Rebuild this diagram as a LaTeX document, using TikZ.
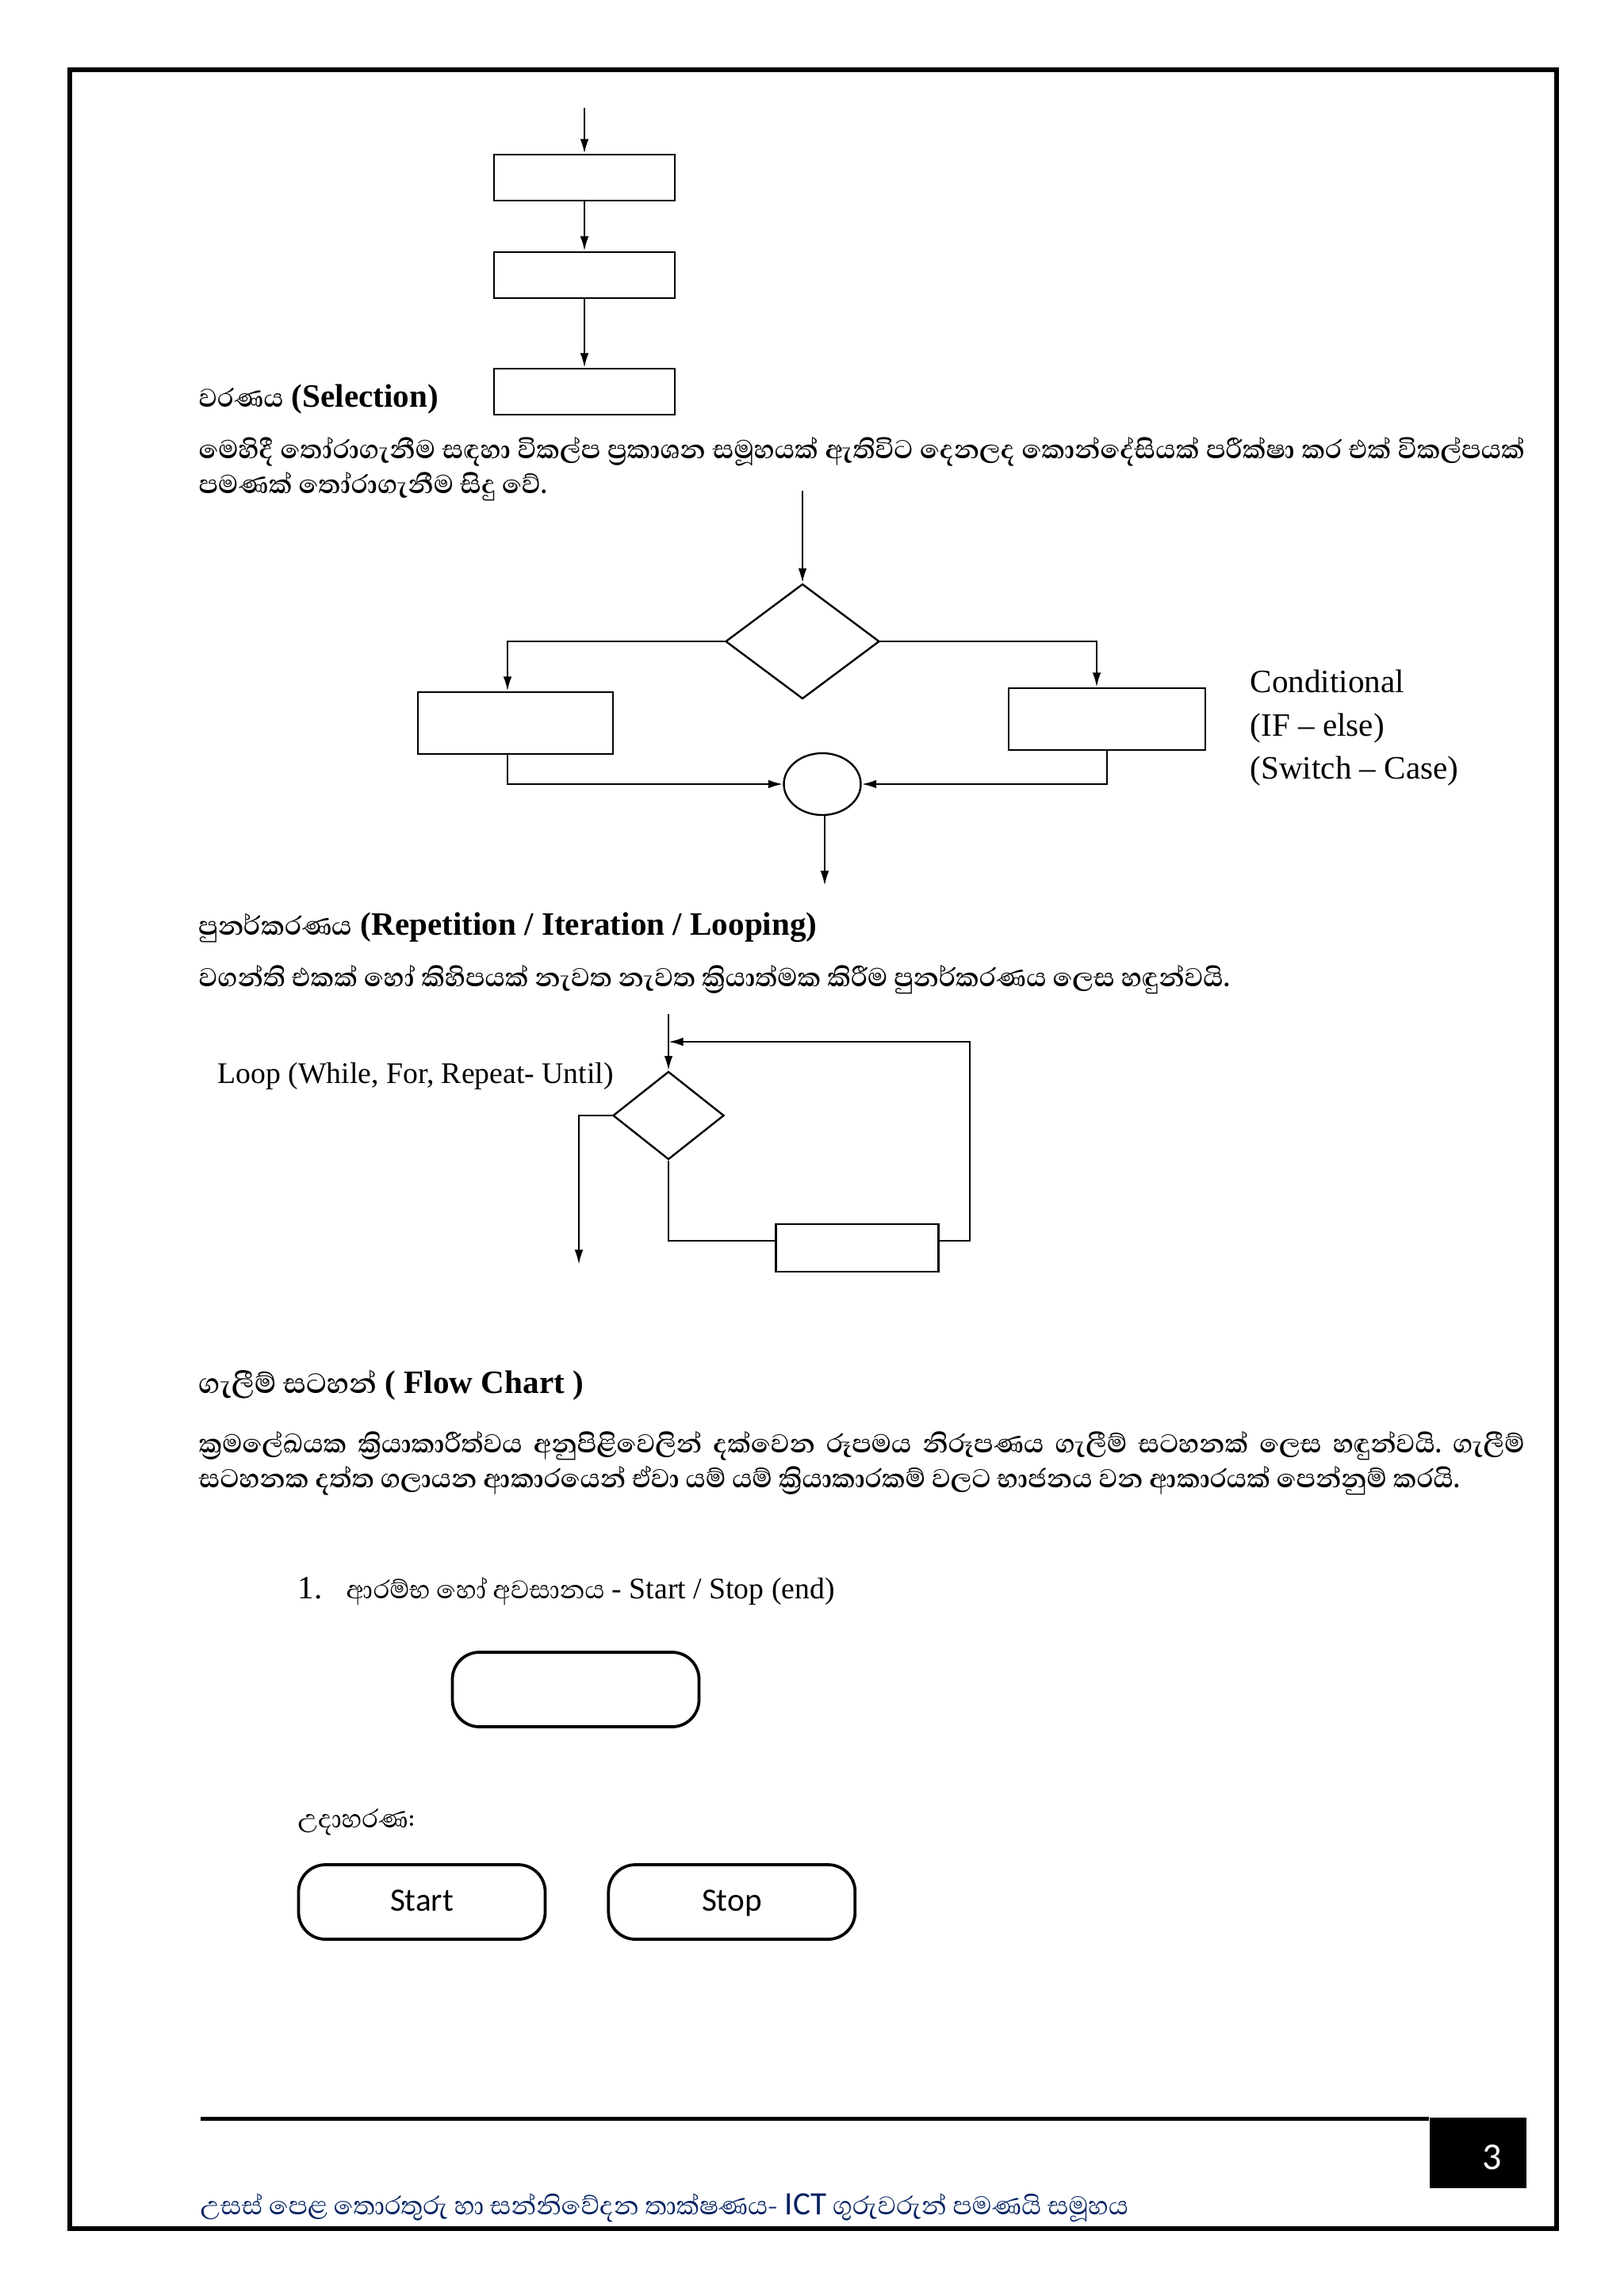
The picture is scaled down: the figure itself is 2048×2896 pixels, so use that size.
\documentclass[tikz,border=0pt]{standalone}
\usepackage{fontspec}
\setmainfont{Liberation Serif}
\newfontfamily\sinhfont[Script=Sinhala]{Abhaya Libre}
\newfontfamily\calib{Carlito}
\usepackage{tikz}
\usetikzlibrary{shapes.geometric, arrows.meta, positioning}
\definecolor{footblue}{RGB}{0,32,96}
\newlength\pxu
\setlength\pxu{0.010254cm}
\frenchspacing

\tikzset{
	procbox/.style={draw, line width=0.7pt, minimum width=228\pxu, minimum height=58\pxu, inner sep=0pt},
	decision/.style={draw, diamond, line width=0.7pt, inner sep=0pt},
	joint/.style={draw, ellipse, line width=0.7pt, inner sep=0pt, minimum width=97\pxu, minimum height=78\pxu},
	terminal/.style={draw, rounded corners=34\pxu, line width=1.1pt, minimum width=311\pxu, minimum height=94\pxu, inner sep=0pt, text height=0.64em, text depth=0pt, font=\calib\fontsize{12}{14}\selectfont},
	arr/.style={-{Latex[length=0.19cm,width=0.11cm]}, line width=0.7pt},
	head/.style={anchor=base west, inner sep=0pt, font=\fontsize{12}{14}\selectfont},
	para/.style={anchor=base west, inner sep=0pt, text width=1672\pxu, align=justify, font=\sinhfont\bfseries\fontsize{12.2}{13.1}\selectfont},
}

\begin{document}
\begin{tikzpicture}[x=0.010254cm, y=-0.010254cm]
	\useasboundingbox (0,0) rectangle (2048,2896);
	% page frame
	\draw[line width=6\pxu] (88,88) rectangle (1963,2811);
	
	% sequence
	\coordinate (in1) at (737,136);
	\node[procbox] (b1) at (737,224) {};
	\node[procbox, below=0.64cm of b1] (b2) {};
	\node[procbox, below=0.89cm of b2] (b3) {};
	\draw[arr] (in1) -- (b1);
	\draw[arr] (b1) -- (b2);
	\draw[arr] (b2) -- (b3);
	
	\node[head] (h1) at (250,513) {{\sinhfont\bfseries වරණය} \textbf{(Selection)}};
	\node[para] (p1) at (250,578) {මෙහිදී තෝරාගැනීම සඳහා විකල්ප ප්^^^^200dරකාශන සමූහයක් ඇතිවිට දෙනලද කොන්දේසියක් පරීක්ෂා කර එක් විකල්පයක්\linebreak පමණක් තෝරාගැනීම සිදු වේ.};
	
	% selection
	\coordinate (sin) at (1012,619);
	\node[decision, minimum width=194\pxu, minimum height=145\pxu] (d1) at (1012,809) {};
	\node[procbox, minimum width=246\pxu, minimum height=78\pxu] (lb) at (650,912) {};
	\node[procbox, minimum width=248\pxu, minimum height=78\pxu] (rb) at (1396,907) {};
	\node[joint] (j) at (1037,989) {};
	\coordinate (sout) at (1040,1117);
	\draw[arr] (sin) -- (d1);
	\draw[arr] (d1.west) -| ([xshift=-10\pxu]lb.north);
	\draw[arr] (d1.east) -| ([xshift=-13\pxu]rb.north);
	\draw[arr] ([xshift=-10\pxu]lb.south) |- (j.west);
	\draw[arr] (rb.south) |- (j.east);
	\draw[arr] (j.south -| sout) -- (sout);
	\node[head] (c1) at (1576,873) {Conditional};
	\node[head] (c2) at (1576,928) {(IF -- else)};
	\node[head] (c3) at (1576,982) {(Switch -- Case)};
	
	\node[head] (h2) at (250,1179) {{\sinhfont\bfseries\fontsize{12.3}{14}\selectfont පුනර්කරණය} \textbf{(Repetition / Iteration / Looping)}};
	\node[para] (p2) at (250,1244) {වගන්ති එකක් හෝ කිහිපයක් නැවත නැවත ක්^^^^200dරියාත්මක කිරීම පුනර්කරණය ලෙස හඳුන්වයි.};
	
	% loop
	\coordinate (lin) at (843,1279);
	\coordinate (merge) at (843,1314);
	\coordinate (rcor) at (1223,1314);
	\coordinate (lout) at (730,1595);
	\node[decision, minimum width=140\pxu, minimum height=111\pxu] (d2) at (843,1407) {};
	\node[procbox, minimum width=205\pxu, minimum height=60\pxu] (body) at (1081,1574) {};
	\draw[arr] (lin) -- (d2);
	\draw[arr] (d2.west) -| (lout);
	\draw (d2.south) |- ([yshift=9\pxu]body.west);
	\draw[arr] ([yshift=9\pxu]body.east) -| (rcor) -- (merge);
	\node[head, font=\fontsize{11}{13}\selectfont] (lp) at (274,1366) {Loop (While, For, Repeat- Until)};
	
	\node[head] (h3) at (250,1757) {{\sinhfont\bfseries\fontsize{13.2}{15}\selectfont ගැලීම් සටහන්} \textbf{( Flow Chart )}};
	\node[para] (p3) at (250,1832) {ක්^^^^200dරමලේඛයක ක්^^^^200dරියාකාරීත්වය අනුපිළිවෙලින් දක්වෙන රූපමය නිරූපණය ගැලීම් සටහනක් ලෙස හඳුන්වයි. ගැලීම්\linebreak සටහනක දත්ත ගලායන ආකාරයෙන් ඒවා යම් යම් ක්^^^^200dරියාකාරකම් වලට භාජනය වන ආකාරයක් පෙන්නුම් කරයි.};
	
	% terminals
	\node[head] (n1) at (375,2016) {1.};
	\node[head, font=\fontsize{11}{13}\selectfont] (t1) at (436,2016) {{\sinhfont\fontsize{12}{14}\selectfont ආරම්භ හෝ අවසානය} - Start / Stop (end)};
	\node[terminal] (t0) at (726,2131) {};
	\node[head] (ex) at (375,2305) {\sinhfont උදාහරණ:};
	\node[terminal] (start) at (532,2399) {Start};
	\node[terminal, right=0.78cm of start] (stop) {Stop};
	
	% footer
	\node[fill=black, anchor=north west, minimum width=122\pxu, minimum height=89\pxu, inner sep=0pt] (pg) at (1802,2670) {};
	\node[anchor=base, text=white, inner sep=0pt, font=\calib\fontsize{14}{16}\selectfont] (pgnum) at (1882,2736) {3};
	\coordinate (sepl) at (253,2672);
	\draw[line width=5\pxu] (sepl) -- (sepl -| pg.west);
	\node[anchor=base west, inner sep=0pt, text=footblue, font=\sinhfont\fontsize{12}{14}\selectfont] (foot) at (252,2793) {උසස් පෙළ තොරතුරු හා සන්නිවේදන තාක්ෂණය- {\calib ICT} ගුරුවරුන් පමණයි සමූහය};
\end{tikzpicture}
\end{document}
